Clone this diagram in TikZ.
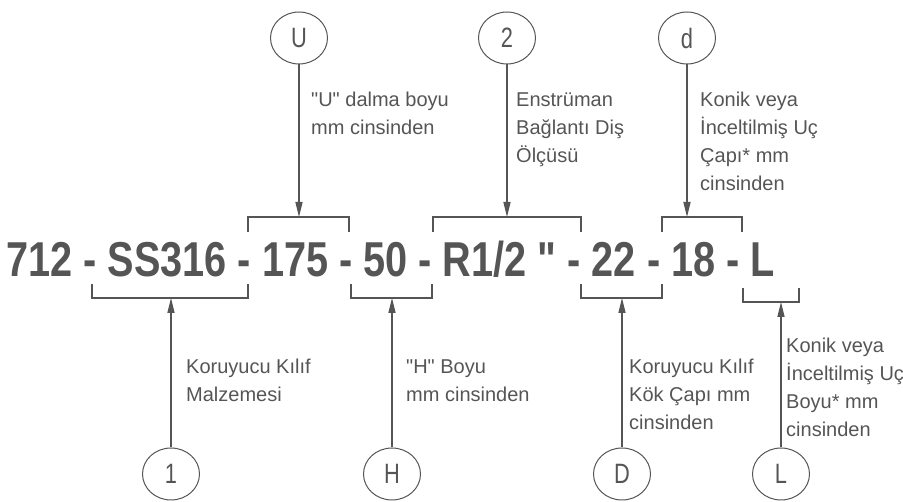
\documentclass[tikz,border=0pt]{standalone}
\usepackage{fontspec}
\newfontfamily\lab{Liberation Sans}
\usetikzlibrary{arrows.meta,shapes.geometric}
\definecolor{ink}{HTML}{555555}
\newcommand{\bubtxt}[1]{\scalebox{0.78}[1]{#1}}
\begin{document}
\begin{tikzpicture}[x=1pt,y=-1pt,
  lbl/.style={anchor=base west, inner sep=0pt, align=left, text=ink, font=\lab\fontsize{20}{28}\selectfont},
  bub/.style={draw=ink, line width=1pt, ellipse, minimum width=57pt, minimum height=52pt, inner sep=0pt, text=ink, font=\lab\fontsize{28}{28}\selectfont},
  brk/.style={draw=ink, line width=1.3pt},
  arr/.style={draw=ink, line width=1.5pt, -{Triangle[length=15pt,width=7pt]}}]
\useasboundingbox (0,0) rectangle (903,502);
% main code
\node[anchor=base west, inner sep=0pt, text=ink] (code) at (6,277)
  {\scalebox{0.81}[1]{\lab\fontsize{49}{49}\selectfont\bfseries 712 - SS316 - 175 - 50 - R1/2 " - 22 - 18 - L}};
% top brackets
\draw[brk] (248,232) -- (248,217) -- (349,217) -- (349,232);
\draw[brk] (433,232) -- (433,217) -- (581,217) -- (581,232);
\draw[brk] (662,232) -- (662,217) -- (742,217) -- (742,232);
\coordinate (tU) at (299,217);
\coordinate (t2) at (507,217);
\coordinate (td) at (687,217);
% bottom brackets
\draw[brk] (92,284) -- (92,298) -- (248,298) -- (248,284);
\draw[brk] (351,284) -- (351,298) -- (432,298) -- (432,284);
\draw[brk] (581,284) -- (581,298) -- (662,298) -- (662,284);
\draw[brk] (743,288) -- (743,302) -- (799,302) -- (799,288);
\coordinate (b1) at (171,298);
\coordinate (bH) at (392,298);
\coordinate (bD) at (622,298);
\coordinate (bL) at (781,302);
% bubbles
\node[bub] (cU) at (299,38) {\bubtxt{U}};
\node[bub] (c2) at (507,38) {\bubtxt{2}};
\node[bub] (cd) at (687,38) {\bubtxt{d}};
\node[bub] (c1) at (171,474) {\bubtxt{1}};
\node[bub] (cH) at (392,474) {\bubtxt{H}};
\node[bub] (cD) at (622,474) {\bubtxt{D}};
\node[bub] (cL) at (781,474) {\bubtxt{L}};
% arrows
\draw[arr] (cU) -- (tU);
\draw[arr] (c2) -- (t2);
\draw[arr] (cd) -- (td);
\draw[arr] (c1) -- (b1);
\draw[arr] (cH) -- (bH);
\draw[arr] (cD) -- (bD);
\draw[arr] (cL) -- (bL);
% labels (anchor at baseline of last line)
\node[lbl] (lU) at (311,135) {"U" dalma boyu\\mm cinsinden};
\node[lbl] (l2) at (516,163) {Enstrüman\\Bağlantı Diş\\Ölçüsü};
\node[lbl] (ld) at (700,191) {Konik veya\\İnceltilmiş Uç\\Çapı* mm\\cinsinden};
\node[lbl] (l1) at (186,402) {Koruyucu Kılıf\\Malzemesi};
\node[lbl] (lH) at (406,402) {"H" Boyu\\mm cinsinden};
\node[lbl] (lD) at (629,430) {Koruyucu Kılıf\\Kök Çapı mm\\cinsinden};
\node[lbl] (lL) at (786,437) {Konik veya\\İnceltilmiş Uç\\Boyu* mm\\cinsinden};
\end{tikzpicture}
\end{document}
